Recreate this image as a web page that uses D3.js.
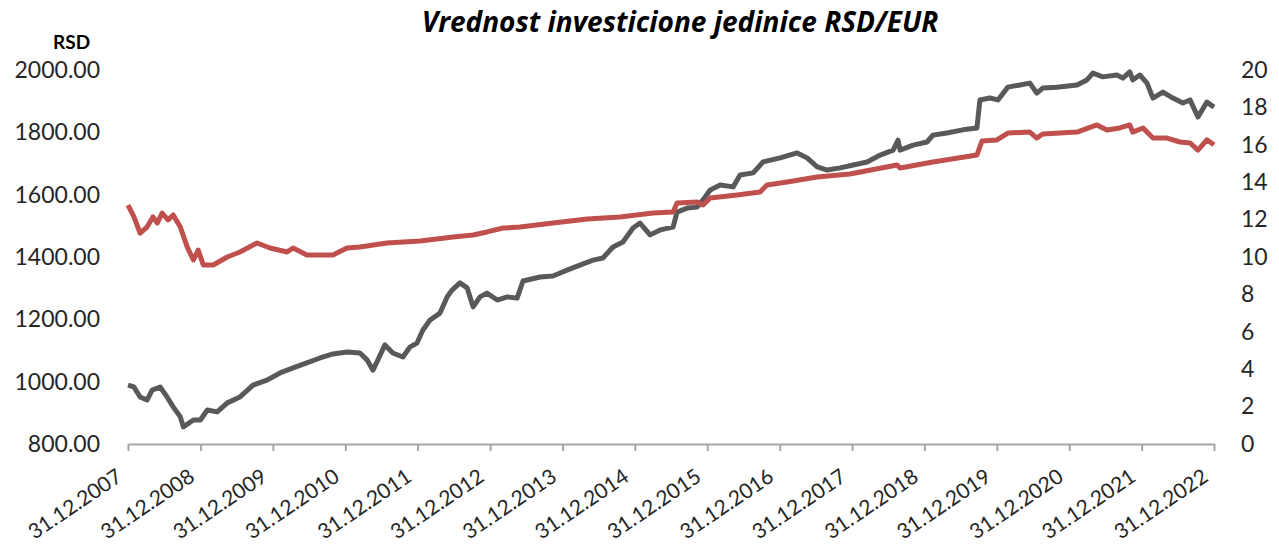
<!DOCTYPE html>
<html>
<head>
<meta charset="utf-8">
<script src="https://cdn.jsdelivr.net/npm/d3@7"></script>
<style>
    body { margin: 0; background: #ffffff; }
    svg { display: block; }
</style>
</head>
<body>
<svg id="chart" width="1279" height="548"></svg>
<script>
// Grey series - RSD (left axis)
let rsdDates = [
    "2007-12-31", "2008-01-30", "2008-03-01", "2008-04-05", "2008-05-01", "2008-06-10", "2008-07-15",
    "2008-08-15", "2008-09-20", "2008-10-05", "2008-11-25", "2008-12-30", "2009-02-03", "2009-03-25",
    "2009-05-15", "2009-07-18", "2009-09-22", "2009-12-01", "2010-02-05", "2010-04-12", "2010-06-20",
    "2010-08-26", "2010-10-30", "2011-01-09", "2011-03-15", "2011-04-20", "2011-05-20", "2011-06-14",
    "2011-07-19", "2011-08-28", "2011-10-18", "2011-11-22", "2011-12-28", "2012-01-27", "2012-03-03",
    "2012-04-22", "2012-05-28", "2012-06-22", "2012-08-01", "2012-09-06", "2012-10-06", "2012-11-10",
    "2012-12-15", "2013-02-05", "2013-03-27", "2013-05-16", "2013-06-15", "2013-09-09", "2013-11-13",
    "2014-01-23", "2014-03-29", "2014-06-03", "2014-07-23", "2014-09-12", "2014-11-01", "2014-12-22",
    "2015-01-26", "2015-03-18", "2015-05-08", "2015-07-12", "2015-08-01", "2015-09-21", "2015-11-10",
    "2015-12-10", "2016-01-15", "2016-03-06", "2016-05-10", "2016-06-14", "2016-08-19", "2016-10-08",
    "2017-01-02", "2017-03-29", "2017-05-18", "2017-07-08", "2017-08-28", "2017-11-01", "2018-01-06",
    "2018-03-17", "2018-05-22", "2018-07-26", "2018-08-20", "2018-08-30", "2018-11-04", "2019-01-13",
    "2019-02-12", "2019-04-23", "2019-07-13", "2019-09-22", "2019-10-07", "2019-11-26", "2020-01-06",
    "2020-02-25", "2020-04-26", "2020-06-15", "2020-07-20", "2020-08-19", "2020-10-29", "2021-02-08",
    "2021-03-30", "2021-04-29", "2021-06-18", "2021-08-28", "2021-09-27", "2021-11-01", "2021-11-16",
    "2021-12-22", "2022-01-27", "2022-02-26", "2022-04-17", "2022-06-07", "2022-07-27", "2022-09-01",
    "2022-10-11", "2022-11-25", "2022-12-31"
];
let rsdValues = [
    989, 983, 951, 941, 973, 983, 951,
    919, 887, 855, 877, 877, 909, 903,
    932, 951, 989, 1005, 1028, 1044, 1060,
    1076, 1089, 1095, 1092, 1070, 1037, 1070,
    1118, 1092, 1079, 1111, 1124, 1166, 1198,
    1220, 1272, 1294, 1317, 1301, 1240, 1272,
    1284, 1262, 1272, 1268, 1323, 1336, 1339,
    1358, 1374, 1390, 1397, 1432, 1448, 1493,
    1509, 1471, 1487, 1496, 1544, 1557, 1560,
    1583, 1615, 1631, 1625, 1663, 1670, 1705,
    1718, 1734, 1718, 1689, 1679, 1686, 1695,
    1705, 1727, 1743, 1775, 1743, 1759, 1769,
    1791, 1798, 1808, 1814, 1904, 1910, 1904,
    1945, 1952, 1958, 1926, 1942, 1945, 1952,
    1968, 1990, 1978, 1984, 1974, 1994, 1968,
    1984, 1958, 1910, 1929, 1910, 1894, 1904,
    1849, 1897, 1881
];

// Red series - EUR (right axis)
let eurDates = [
    "2007-12-31", "2008-01-30", "2008-03-01", "2008-04-05", "2008-05-05", "2008-05-27", "2008-06-20",
    "2008-07-20", "2008-08-15", "2008-09-20", "2008-10-25", "2008-11-25", "2008-12-19", "2009-01-14",
    "2009-03-05", "2009-05-15", "2009-07-18", "2009-10-12", "2009-12-17", "2010-03-13", "2010-04-12",
    "2010-06-20", "2010-10-30", "2011-01-09", "2011-03-15", "2011-07-29", "2012-01-12", "2012-06-27",
    "2012-10-06", "2012-12-15", "2013-03-07", "2013-05-31", "2013-11-13", "2014-05-05", "2014-10-17",
    "2015-04-02", "2015-07-12", "2015-08-01", "2015-11-10", "2015-12-10", "2016-01-15", "2016-05-30",
    "2016-09-23", "2016-10-28", "2017-02-06", "2017-07-08", "2017-12-20", "2018-08-15", "2018-08-30",
    "2019-02-12", "2019-09-22", "2019-10-17", "2020-01-01", "2020-02-25", "2020-06-15", "2020-07-20",
    "2020-08-19", "2021-02-08", "2021-05-19", "2021-07-09", "2021-09-12", "2021-11-01", "2021-11-16",
    "2022-01-07", "2022-02-26", "2022-05-08", "2022-07-12", "2022-09-01", "2022-10-11", "2022-11-25",
    "2022-12-31"
];
let eurValues = [
    12.78, 12.14, 11.28, 11.60, 12.14, 11.82, 12.35,
    11.98, 12.25, 11.60, 10.53, 9.84, 10.37, 9.57,
    9.57, 10.00, 10.27, 10.75, 10.48, 10.27, 10.48,
    10.11, 10.11, 10.48, 10.53, 10.75, 10.86, 11.07,
    11.18, 11.34, 11.55, 11.60, 11.82, 12.03, 12.14,
    12.35, 12.41, 12.89, 12.94, 12.78, 13.16, 13.32,
    13.48, 13.85, 14.01, 14.28, 14.44, 14.92, 14.76,
    15.08, 15.45, 16.20, 16.26, 16.63, 16.68, 16.36,
    16.58, 16.68, 17.06, 16.79, 16.90, 17.06, 16.68,
    16.90, 16.36, 16.36, 16.15, 16.10, 15.72, 16.26,
    16.00
];

// Axis ticks
let leftTicks = [800, 1000, 1200, 1400, 1600, 1800, 2000];
let rightTicks = [0, 2, 4, 6, 8, 10, 12, 14, 16, 18, 20];
let yearTicks = ["2007-12-31", "2008-12-31", "2009-12-31", "2010-12-31", "2011-12-31", "2012-12-31",
    "2013-12-31", "2014-12-31", "2015-12-31", "2016-12-31", "2017-12-31", "2018-12-31",
    "2019-12-31", "2020-12-31", "2021-12-31", "2022-12-31"];

let parseDate = d3.timeParse("%Y-%m-%d");
let fmtDate = d3.timeFormat("%d.%m.%Y");
let font = "Lato, 'Open Sans', sans-serif";

let svg = d3.select("#chart");

// Margin
let margin = {
    top: 70,
    right: 65,
    bottom: 104,
    left: 128
};
let plotWidth = 1279 - margin.left - margin.right;
let plotHeight = 548 - margin.top - margin.bottom;

let xScale = d3.scaleTime()
    .domain([parseDate("2007-12-31"), parseDate("2022-12-31")])
    .range([0, plotWidth]);

let leftScale = d3.scaleLinear()
    .domain([800, 2000])
    .range([plotHeight, 0]);

let rightScale = d3.scaleLinear()
    .domain([0, 20])
    .range([plotHeight, 0]);

let plot = svg.append("g")
    .attr("id", "plot")
    .attr("transform", "translate(" + margin.left + "," + margin.top + ")");

// Left axis
let yLeft = plot.append("g")
    .call(d3.axisLeft(leftScale).tickValues(leftTicks).tickSize(0).tickPadding(28)
        .tickFormat(d3.format(".2f")));
yLeft.select(".domain").remove();
yLeft.selectAll("text")
    .style("font-family", font)
    .style("font-size", "23px")
    .style("fill", "#262626");

// Right axis
let yRight = plot.append("g")
    .attr("transform", "translate(" + plotWidth + ",0)")
    .call(d3.axisRight(rightScale).tickValues(rightTicks).tickSize(0).tickPadding(27));
yRight.select(".domain").remove();
yRight.selectAll("text")
    .style("font-family", font)
    .style("font-size", "23px")
    .style("fill", "#262626");

// X axis
let xGroup = plot.append("g")
    .attr("transform", "translate(0," + plotHeight + ")")
    .call(d3.axisBottom(xScale).tickValues(yearTicks.map(parseDate)).tickSize(7).tickSizeOuter(0)
        .tickFormat(fmtDate));
xGroup.select(".domain")
    .attr("stroke", "#a6a6a6")
    .attr("stroke-width", 2);
xGroup.selectAll(".tick line")
    .attr("stroke", "#a6a6a6")
    .attr("stroke-width", 2);
xGroup.selectAll("text")
    .attr("y", 0)
    .attr("dy", 0)
    .attr("text-anchor", "end")
    .attr("transform", "translate(-5,36) rotate(-34)")
    .style("font-family", font)
    .style("font-size", "21px")
    .style("fill", "#262626");

// Lines
let rsdPoints = rsdDates.map((d, i) => ({x: parseDate(d), y: rsdValues[i]}));
let eurPoints = eurDates.map((d, i) => ({x: parseDate(d), y: eurValues[i]}));

let rsdLine = d3.line()
    .x((d) => xScale(d.x))
    .y((d) => leftScale(d.y));

let eurLine = d3.line()
    .x((d) => xScale(d.x))
    .y((d) => rightScale(d.y));

plot.append("path")
    .attr("d", rsdLine(rsdPoints))
    .attr("stroke", "#595959")
    .attr("stroke-width", 5)
    .attr("stroke-linejoin", "round")
    .attr("fill", "none");

plot.append("path")
    .attr("d", eurLine(eurPoints))
    .attr("stroke", "#c0504d")
    .attr("stroke-width", 5)
    .attr("stroke-linejoin", "round")
    .attr("fill", "none");

// Title
svg.append("text")
    .text("Vrednost investicione jedinice RSD/EUR")
    .attr("x", 680)
    .attr("y", 32)
    .attr("text-anchor", "middle")
    .style("font-family", "'Open Sans', Lato, sans-serif")
    .style("font-size", "28px")
    .style("font-weight", "bold")
    .style("font-style", "italic")
    .style("fill", "#000000");

// Left axis unit
svg.append("text")
    .text("RSD")
    .attr("x", 53)
    .attr("y", 49)
    .style("font-family", font)
    .style("font-size", "19px")
    .style("font-weight", "bold")
    .style("fill", "#000000");
</script>
</body>
</html>
